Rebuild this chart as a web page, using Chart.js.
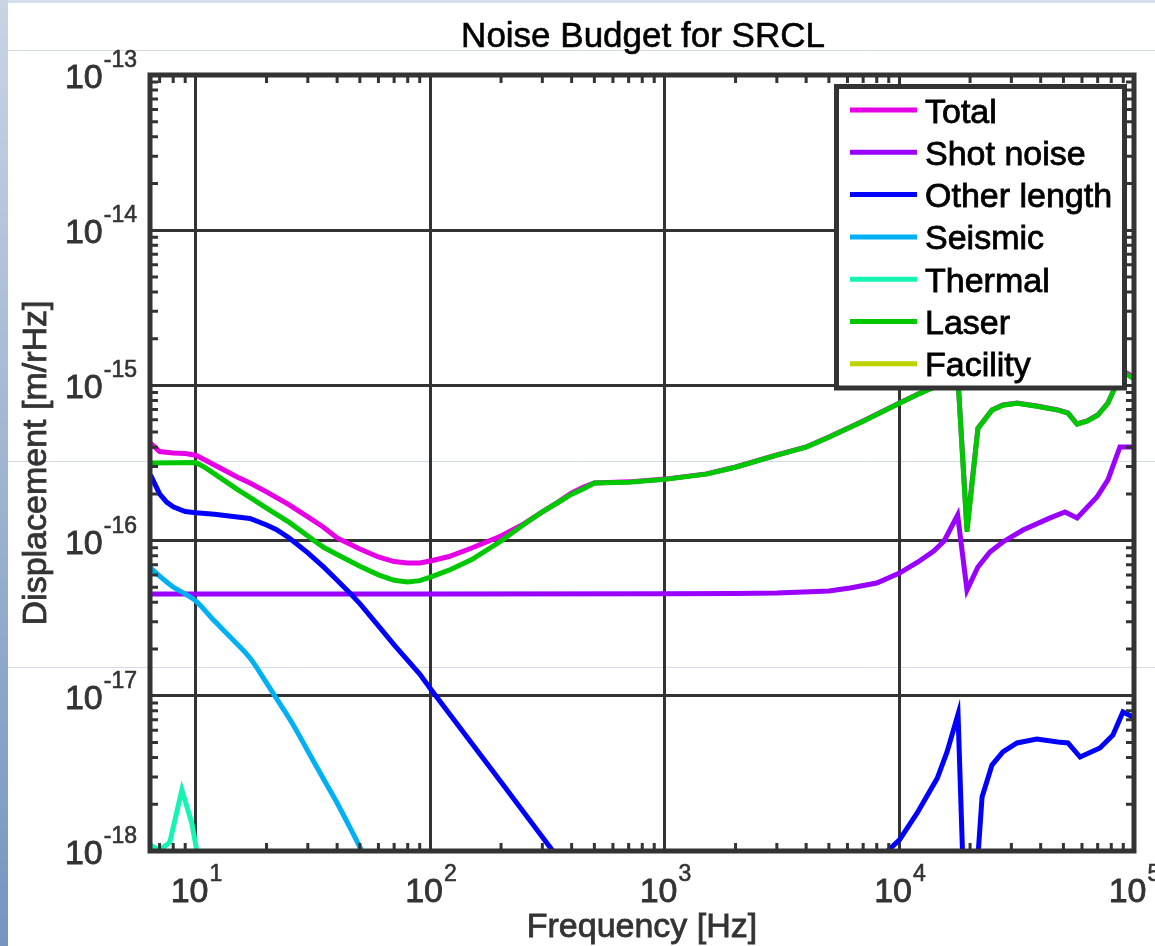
<!DOCTYPE html>
<html>
<head>
<meta charset="utf-8">
<script src="https://cdn.jsdelivr.net/npm/chart.js@4/dist/chart.umd.min.js"></script>
<style>
  html, body { margin: 0; padding: 0; background: #fff; }
  canvas { display: block; }
</style>
</head>
<body>
<canvas id="grafica" width="1155" height="946"></canvas>
<script>
// frecuencias en Hz, desplazamiento en m/rHz
const totalFreq = [6.4, 7, 8, 9, 10, 12, 15, 17, 20, 25, 30, 35, 40, 50, 60, 70, 80, 90, 100, 120, 150, 200, 250, 300, 350, 400, 450, 500, 700, 1000, 1500, 2000, 3000, 4000, 5000, 7000, 10000, 12000, 15000, 17000, 17700, 19400, 21600, 24800, 27600, 31700, 38500, 47400, 52300, 57200, 63000, 70000, 77400, 82000, 88000, 93000, 100000];
const totalVals = [4.25e-16, 3.75e-16, 3.67e-16, 3.64e-16, 3.55e-16, 3.07e-16, 2.57e-16, 2.35e-16, 2.06e-16, 1.7e-16, 1.42e-16, 1.22e-16, 1.04e-16, 8.83e-17, 7.84e-17, 7.33e-17, 7.18e-17, 7.18e-17, 7.39e-17, 7.9e-17, 8.96e-17, 1.07e-16, 1.28e-16, 1.53e-16, 1.77e-16, 2.03e-16, 2.21e-16, 2.35e-16, 2.39e-16, 2.49e-16, 2.69e-16, 2.98e-16, 3.56e-16, 4.01e-16, 4.65e-16, 5.9e-16, 7.7e-16, 8.8e-16, 1.02e-15, 1.15e-15, 1.2e-15, 1.2e-16, 5.3e-16, 6.95e-16, 7.48e-16, 7.7e-16, 7.36e-16, 6.95e-16, 6.64e-16, 5.64e-16, 5.9e-16, 6.44e-16, 7.7e-16, 9.33e-16, 1.12e-15, 1.2e-15, 1.13e-15];

const shotFreq = [6.4, 100, 1000, 2000, 3000, 5000, 6150, 8000, 10000, 12000, 14000, 15500, 17700, 19400, 21600, 24300, 27600, 33600, 43900, 50800, 57200, 69500, 77400, 87100, 100000];
const shotVals = [4.53e-17, 4.53e-17, 4.54e-17, 4.56e-17, 4.59e-17, 4.73e-17, 4.95e-17, 5.33e-17, 6.18e-17, 7.28e-17, 8.57e-17, 9.94e-17, 1.46e-16, 4.8e-17, 6.76e-17, 8.45e-17, 9.8e-17, 1.17e-16, 1.4e-16, 1.53e-16, 1.4e-16, 1.91e-16, 2.46e-16, 4.01e-16, 4.01e-16];

const otherFreq = [6.4, 7, 7.5, 8, 9, 10, 12, 15, 17, 20, 22, 25, 30, 35, 40, 45, 50, 60, 70, 80, 90, 100, 200, 300, 1000, 5000, 8900, 10000, 11900, 14500, 15950, 17770, 19500, 22500, 24800, 27600, 31700, 38500, 47400, 52300, 58900, 71600, 81300, 89700, 99000];
const otherVals = [2.65e-16, 2.0e-16, 1.77e-16, 1.65e-16, 1.54e-16, 1.51e-16, 1.48e-16, 1.42e-16, 1.39e-16, 1.26e-16, 1.18e-16, 1.04e-16, 8.34e-17, 6.77e-17, 5.56e-17, 4.65e-17, 3.93e-17, 2.82e-17, 2.13e-17, 1.69e-17, 1.38e-17, 1.11e-17, 2.78e-18, 1.23e-18, 1.1e-19, 2.4e-19, 1.0e-18, 1.18e-18, 1.76e-18, 2.95e-18, 4.35e-18, 7.6e-18, 1e-19, 2.23e-18, 3.58e-18, 4.35e-18, 4.97e-18, 5.27e-18, 5.04e-18, 4.97e-18, 4.03e-18, 4.61e-18, 5.59e-18, 7.86e-18, 7.3e-18];

const seisFreq = [6.4, 7, 8, 9, 10, 12, 14, 17, 20, 23, 26, 30, 35, 40, 45, 50, 55];
const seisVals = [6.66e-17, 5.91e-17, 5.02e-17, 4.53e-17, 4.08e-17, 3.03e-17, 2.39e-17, 1.75e-17, 1.21e-17, 8.72e-18, 6.49e-18, 4.41e-18, 2.91e-18, 2.04e-18, 1.45e-18, 1.06e-18, 8.0e-19];

const thermFreq = [6.4, 7, 7.74, 8.71, 9.61, 10.2, 12];
const thermVals = [1.09e-18, 1.01e-18, 1.14e-18, 2.47e-18, 1.51e-18, 9.1e-19, 3e-19];

const laserFreq = [6.4, 8, 10, 11, 12, 15, 17, 20, 25, 30, 35, 40, 50, 60, 70, 80, 90, 100, 120, 150, 200, 250, 300, 350, 400, 450, 500, 700, 1000, 1500, 2000, 3000, 4000, 5000, 7000, 10000, 12000, 15000, 17000, 17700, 19400, 21600, 24800, 27600, 31700, 38500, 47400, 52300, 57200, 63000, 70000, 77400, 82000, 88000, 93000, 100000];
const laserVals = [3.16e-16, 3.17e-16, 3.18e-16, 2.94e-16, 2.69e-16, 2.14e-16, 1.9e-16, 1.62e-16, 1.31e-16, 1.07e-16, 9.06e-17, 8.13e-17, 6.83e-17, 6.02e-17, 5.55e-17, 5.42e-17, 5.52e-17, 5.81e-17, 6.45e-17, 7.55e-17, 9.94e-17, 1.27e-16, 1.53e-16, 1.76e-16, 1.99e-16, 2.16e-16, 2.35e-16, 2.38e-16, 2.48e-16, 2.68e-16, 2.97e-16, 3.55e-16, 4.0e-16, 4.63e-16, 5.88e-16, 7.68e-16, 8.78e-16, 1.018e-15, 1.148e-15, 1.19e-15, 1.14e-16, 5.28e-16, 6.93e-16, 7.46e-16, 7.68e-16, 7.34e-16, 6.93e-16, 6.62e-16, 5.62e-16, 5.88e-16, 6.42e-16, 7.68e-16, 9.3e-16, 1.11e-15, 1.18e-15, 1.1e-15];

const facFreq = [6.4, 100, 1000, 100000];
const facVals = [2e-20, 1e-20, 1e-20, 3e-20];

const etiquetas = ['Total', 'Shot noise', 'Other length', 'Seismic', 'Thermal', 'Laser', 'Facility'];
const colores = ['#e600e6', '#9900ff', '#0000ff', '#00b0f5', '#14f5b4', '#00c800', '#bed200'];
const series = [
  [totalFreq, totalVals], [shotFreq, shotVals], [otherFreq, otherVals], [seisFreq, seisVals],
  [thermFreq, thermVals], [laserFreq, laserVals], [facFreq, facVals]
];

const fuente = '"Liberation Sans", Arial, sans-serif';

function esDecada(v) {
  const l = Math.log10(v);
  return Math.abs(l - Math.round(l)) < 1e-6;
}

// texto un poco mas grueso, como en la figura original
function texto(ctx, t, x, y, grosor) {
  ctx.lineWidth = grosor;
  ctx.strokeStyle = ctx.fillStyle;
  ctx.strokeText(t, x, y);
  ctx.fillText(t, x, y);
}

const datasets = series.map(function (s, i) {
  return {
    label: etiquetas[i],
    data: s[0].map(function (f, j) { return { x: f, y: s[1][j] }; }),
    borderColor: colores[i],
    backgroundColor: colores[i],
    borderWidth: 5,
    pointRadius: 0,
    tension: 0,
    cubicInterpolationMode: etiquetas[i] === 'Seismic' ? 'monotone' : 'default',
    fill: false,
    order: series.length - i   // Total abajo, Laser encima
  };
});

const marco = {
  id: 'marco',
  beforeDraw: function (chart) {
    const ctx = chart.ctx;
    ctx.save();
    /* fondo de la diapositiva */
    ctx.fillStyle = '#fff';
    ctx.fillRect(0, 0, chart.width, chart.height);
    ctx.fillStyle = '#d5e0ec';
    ctx.fillRect(0, 0, chart.width, 3);
    const g = ctx.createLinearGradient(0, 0, 0, chart.height);
    g.addColorStop(0, '#c8d4e4');
    g.addColorStop(0.5, '#9fb4d0');
    g.addColorStop(1, '#7595c0');
    ctx.fillStyle = g;
    ctx.fillRect(0, 0, 8, chart.height);
    ctx.strokeStyle = '#d3dce6';
    ctx.lineWidth = 1;
    [50.5, 461.5, 667.5].forEach(function (y) {
      ctx.beginPath(); ctx.moveTo(8, y); ctx.lineTo(chart.width, y); ctx.stroke();
    });
    ctx.restore();
  },
  afterDatasetsDraw: function (chart) {
    const ctx = chart.ctx;
    const a = chart.chartArea;
    const xs = chart.scales.x, ys = chart.scales.y;
    ctx.save();

    // marcas menores hacia dentro
    ctx.strokeStyle = '#333';
    ctx.lineWidth = 3;
    for (let d = 0; d <= 4; d++) {
      for (let k = 2; k <= 9; k++) {
        const v = k * Math.pow(10, d);
        if (v < xs.min || v > xs.max) continue;
        const px = xs.getPixelForValue(v);
        ctx.beginPath();
        ctx.moveTo(px, a.bottom); ctx.lineTo(px, a.bottom - 8);
        ctx.moveTo(px, a.top); ctx.lineTo(px, a.top + 8);
        ctx.stroke();
      }
    }
    for (let d = -18; d <= -14; d++) {
      for (let k = 2; k <= 9; k++) {
        const py = ys.getPixelForValue(k * Math.pow(10, d));
        ctx.beginPath();
        ctx.moveTo(a.left, py); ctx.lineTo(a.left + 8, py);
        ctx.moveTo(a.right, py); ctx.lineTo(a.right - 8, py);
        ctx.stroke();
      }
    }

    // caja de ejes
    ctx.lineWidth = 5;
    ctx.strokeRect(a.left, a.top, a.right - a.left, a.bottom - a.top);

    // etiquetas de los ejes
    ctx.fillStyle = '#333';
    ctx.textBaseline = 'alphabetic';
    for (let e = -18; e <= -13; e++) {
      const py = ys.getPixelForValue(Math.pow(10, e));
      ctx.font = '23px ' + fuente;
      const ew = ctx.measureText(String(e)).width;
      ctx.textAlign = 'left';
      texto(ctx, String(e), 137 - ew, py - 8, 0.6);
      ctx.font = '34px ' + fuente;
      ctx.textAlign = 'right';
      texto(ctx, '10', 137 - ew - 1, py + 13, 0.8);
    }
    for (let e = 1; e <= 5; e++) {
      const px = xs.getPixelForValue(Math.pow(10, e));
      ctx.font = '34px ' + fuente;
      const bw = ctx.measureText('10').width;
      ctx.font = '23px ' + fuente;
      const ew = ctx.measureText(String(e)).width;
      const x0 = px - (bw + ew) / 2;
      ctx.textAlign = 'left';
      ctx.font = '34px ' + fuente;
      texto(ctx, '10', x0, 902, 0.8);
      ctx.font = '23px ' + fuente;
      texto(ctx, String(e), x0 + bw + 1, 881, 0.6);
    }

    // titulos
    ctx.textAlign = 'center';
    ctx.font = '34px ' + fuente;
    texto(ctx, 'Frequency [Hz]', 642, 937, 0.8);
    ctx.save();
    ctx.translate(46, (a.top + a.bottom) / 2);
    ctx.rotate(-Math.PI / 2);
    texto(ctx, 'Displacement [m/rHz]', 0, 0, 0.8);
    ctx.restore();
    ctx.fillStyle = '#000';
    ctx.font = '35px ' + fuente;
    texto(ctx, 'Noise Budget for SRCL', 643, 47, 0.6);

    // leyenda
    ctx.fillStyle = '#fff';
    ctx.fillRect(836.5, 86.5, 288, 301.5);
    ctx.strokeStyle = '#333';
    ctx.lineWidth = 5;
    ctx.strokeRect(836.5, 86.5, 288, 301.5);
    ctx.textAlign = 'left';
    ctx.font = '34px ' + fuente;
    chart.data.datasets.forEach(function (ds, i) {
      const yy = 110 + i * 42.3;
      ctx.strokeStyle = ds.borderColor;
      ctx.lineWidth = 5;
      ctx.beginPath(); ctx.moveTo(850, yy); ctx.lineTo(917, yy); ctx.stroke();
      ctx.fillStyle = '#000';
      texto(ctx, ds.label, 925, yy + 12.5, 0.8);
    });

    ctx.restore();
  }
};

const ctx = document.getElementById('grafica').getContext('2d');
window.graficaRuido = new Chart(ctx, {
  type: 'line',
  data: { datasets: datasets },
  options: {
    responsive: false,
    devicePixelRatio: 1,
    animation: false,
    layout: { padding: { left: 150, top: 75, right: 21, bottom: 95 } },
    plugins: { legend: { display: false }, title: { display: false }, tooltip: { enabled: false } },
    scales: {
      x: {
        type: 'logarithmic', min: 6.37, max: 100000,
        ticks: { display: false },
        border: { display: false },
        grid: {
          drawTicks: false, lineWidth: 3,
          color: function (c) { return (c.tick && esDecada(c.tick.value)) ? '#333' : 'rgba(0,0,0,0)'; }
        },
        afterFit: function (s) { s.height = 0; }
      },
      y: {
        type: 'logarithmic', min: 1e-18, max: 1e-13,
        ticks: { display: false },
        border: { display: false },
        grid: {
          drawTicks: false, lineWidth: 3,
          color: function (c) { return (c.tick && esDecada(c.tick.value)) ? '#333' : 'rgba(0,0,0,0)'; }
        },
        afterFit: function (s) { s.width = 0; }
      }
    }
  },
  plugins: [marco]
});
</script>
</body>
</html>
